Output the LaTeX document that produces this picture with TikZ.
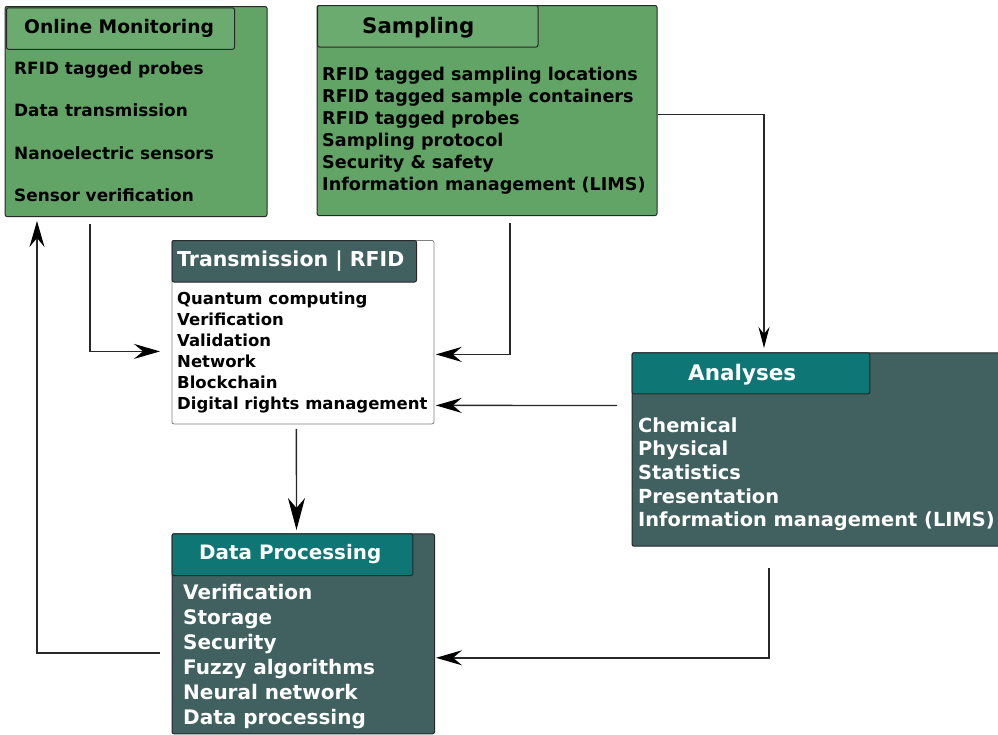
\documentclass[tikz,border=0pt]{standalone}
\usepackage{fontspec}
\setmainfont{DejaVu Sans}
\usetikzlibrary{arrows.meta,calc}
\definecolor{gbody}{RGB}{98,163,102}
\definecolor{ghead}{RGB}{107,171,111}
\definecolor{slate}{RGB}{64,97,96}
\definecolor{tealh}{RGB}{14,118,116}
\definecolor{linec}{RGB}{40,40,40}
\newcommand\myfs[1]{\fontsize{#1}{#1}\selectfont\bfseries}
\tikzset{
  box/.style={draw=linec, line width=1pt, rounded corners=2pt, inner sep=0pt, anchor=north west},
  item/.style={anchor=base west, inner sep=0pt},
  conn/.style={draw=linec, line width=1.4pt, -{Stealth[length=26pt,width=15pt,inset=9pt,color=black]}},
}
\begin{document}
\begin{tikzpicture}[x=1pt,y=-1pt]
\useasboundingbox (0,0) rectangle (998,734);
\clip (0,0) rectangle (998,734);
% Online Monitoring
\node[box, fill=gbody, minimum width=262pt, minimum height=210pt] (om) at (4.5,6) {};
\node[box, fill=ghead, minimum width=228pt, minimum height=41.5pt] (omh) at (6,7.3) {};
\node[item, font=\myfs{18.7}] (omt) at (24,33) {Online Monitoring};
\foreach \t [count=\i from 0] in {RFID tagged probes, Data transmission, Nanoelectric sensors, Sensor verification}
  \node[item, font=\myfs{16.9}] (om-\i) at (14,74+42.5*\i) {\t};
% Sampling
\node[box, fill=gbody, minimum width=340pt, minimum height=210pt] (sa) at (316.5,5) {};
\node[box, fill=ghead, minimum width=220.5pt, minimum height=41.5pt] (sah) at (317,5) {};
\node[item, font=\myfs{21.3}] (sat) at (362,33) {Sampling};
\foreach \t [count=\i from 0] in {RFID tagged sampling locations, RFID tagged sample containers, RFID tagged probes, Sampling protocol, Security \& safety, Information management (LIMS)}
  \node[item, font=\myfs{17.6}] (sa-\i) at (322,80+22*\i) {\t};
% Transmission | RFID
\node[box, draw=gray, line width=0.8pt, fill=white, minimum width=262pt, minimum height=183.5pt] (tr) at (171.5,240) {};
\node[box, fill=slate, minimum width=244.5pt, minimum height=41.5pt] (trh) at (171.5,240) {};
\node[item, font=\myfs{20.5}, text=white] (trt) at (177,266) {Transmission | RFID};
\foreach \t [count=\i from 0] in {Quantum computing, Verification, Validation, Network, Blockchain, Digital rights management}
  \node[item, font=\myfs{16.5}] (tr-\i) at (177,304+21*\i) {\t};
% Analyses
\node[box, fill=slate, minimum width=380pt, minimum height=193.4pt] (an) at (631.5,352.3) {};
\node[box, fill=tealh, minimum width=237.8pt, minimum height=41pt] (anh) at (631.5,352.3) {};
\node[item, font=\myfs{21.5}, text=white] (ant) at (688,380) {Analyses};
\foreach \t [count=\i from 0] in {Chemical, Physical, Statistics, Presentation, Information management (LIMS)}
  \node[item, font=\myfs{19.4}, text=white] (an-\i) at (638,432+23.7*\i) {\t};
% Data Processing
\node[box, fill=slate, minimum width=262.5pt, minimum height=200pt] (dp) at (171.5,533.3) {};
\node[box, fill=tealh, minimum width=240.8pt, minimum height=41.7pt] (dph) at (171.5,533.3) {};
\node[item, font=\myfs{19.9}, text=white] (dpt) at (199,559) {Data Processing};
\foreach \t [count=\i from 0] in {Verification, Storage, Security, Fuzzy algorithms, Neural network, Data processing}
  \node[item, font=\myfs{20}, text=white] (dp-\i) at (183,599+25*\i) {\t};
% connectors
\draw[conn] ([xshift=85.5pt,yshift=-7pt]om.south west) |- ([xshift=-11.5pt,yshift=-19.25pt]tr.west);
\draw[conn] ([xshift=193.5pt,yshift=-7pt]sa.south west) |- ([xshift=1.5pt,yshift=-22.25pt]tr.east);
\draw[conn, -{Stealth[length=21pt,width=11pt,inset=7pt,color=black]}] ([yshift=-4pt]sa.east) -| ([xshift=132.5pt,yshift=4.3pt]an.north west);
\draw[conn] ([xshift=-14.5pt,yshift=44pt]an.west) -- ([xshift=1.5pt,yshift=-73.25pt]tr.east);
\draw[conn, -{Stealth[length=32pt,width=17pt,inset=10pt,color=black]}] ([xshift=-6.5pt,yshift=-4.5pt]tr.south) -- ([xshift=-6.75pt,yshift=3.3pt]dp.north);
\draw[conn] ([xshift=137.5pt,yshift=-21.3pt]an.south west) |- ([xshift=1pt,yshift=-24pt]dp.east);
\draw[conn] ([xshift=-11.5pt,yshift=-19pt]dp.west) -| ([xshift=32.5pt,yshift=-4pt]om.south west);
\end{tikzpicture}
\end{document}
